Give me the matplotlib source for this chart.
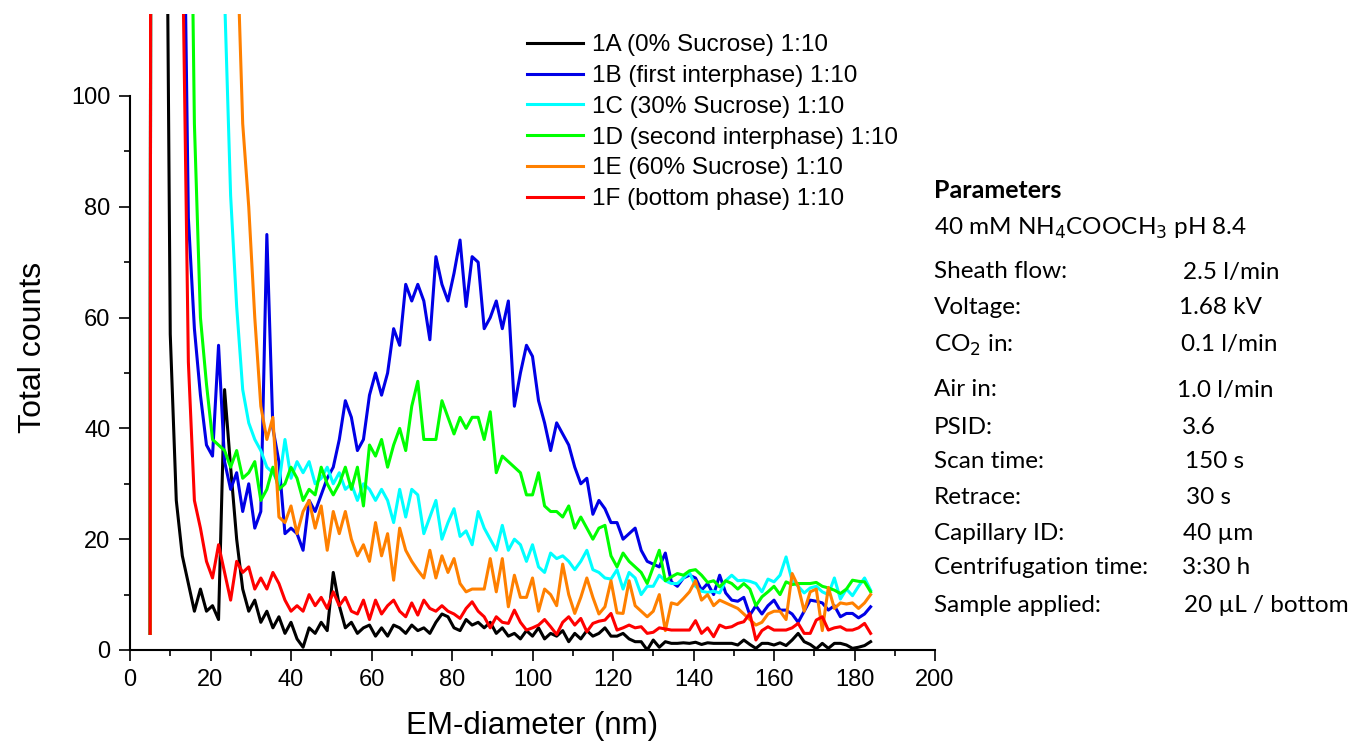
import numpy as np
import matplotlib.pyplot as plt

# -------------------------------
# EM-diameter grid (nm), shared by all samples
# -------------------------------
diameter = np.array([5.0] + list(np.arange(5.5, 184.1, 1.5)))

# -------------------------------
# Total counts
# -------------------------------
counts_1A = [3, 500, 500, 200, 57, 27, 17, 12, 7, 11,
             7, 8, 5.5, 47, 33, 20, 11, 7, 9, 5,
             7, 4, 6, 3, 5, 2, 0.5, 4, 3, 5,
             3.5, 14, 8, 4, 5, 3, 4, 4.5, 2.5, 4,
             2.5, 4.5, 4, 3, 4.5, 3.5, 4, 3, 5, 6.5,
             6, 4, 3.5, 5.5, 4.5, 5, 4, 5, 3, 4,
             2.5, 3, 2, 3.5, 2.5, 4, 2, 3, 2.5, 3.5,
             1.5, 3, 2, 3.5, 2.5, 3, 4, 2.5, 2.5, 3,
             2, 1.5, 1.5, 0, 1.8, 0.5, 1.5, 1.2, 1.2, 1.3,
             1.2, 1.4, 1, 1.3, 1.2, 1.2, 1.2, 1.2, 0.9, 1.8,
             1, 0.3, 1.2, 1.2, 0.9, 1.3, 0.8, 1.8, 3, 1.5,
             1, 0.2, 1.2, 0.3, 1.2, 1.2, 0.9, 0.3, 0.5, 0.8,
             1.5]

counts_1B = [3, 500, 500, 500, 500, 500, 160, 78, 58, 46,
             37, 35, 55, 34, 29, 32, 25, 30, 22, 25,
             75, 40, 34, 21, 22, 21, 18, 27, 25, 28,
             31, 33, 38, 45, 42, 36, 38, 46, 50, 46,
             50, 58, 55, 66, 63, 66, 63, 56, 71, 66,
             63, 68, 74, 62, 71, 70, 58, 60, 63, 58,
             63, 44, 50, 55, 53, 45, 41, 36, 41, 39,
             37, 33, 30, 31, 24.5, 27, 25.5, 23, 23, 20,
             21, 22, 18, 16, 15.5, 15, 17.5, 12.3, 11.5, 13,
             13.5, 13, 10.8, 12, 10, 13.5, 10.3, 9, 8.8, 9.5,
             6.3, 8, 6.5, 8, 9, 7.2, 7.2, 6.5, 5, 7,
             9, 8.8, 8.5, 7.2, 8, 6, 6.6, 6.6, 5.8, 6.5,
             7.8]

counts_1C = [3, 500, 500, 500, 500, 500, 500, 500, 500, 500,
             500, 500, 500, 118, 82, 62, 47, 41, 38, 36,
             33, 32, 30, 38, 31, 34, 32, 34, 30, 31,
             33, 30, 32, 29, 30, 27, 30, 29, 27, 29,
             27, 23, 29, 24, 29, 28, 21, 24, 27, 20,
             23, 25.5, 20.5, 21.5, 19, 25, 22, 20, 18, 22.5,
             18, 20, 19, 16, 19, 15, 14, 17.5, 16.5, 17,
             16, 14.5, 16, 18, 14.5, 14, 13, 12.8, 14.5, 11,
             14, 13, 10, 11.5, 11.5, 13.5, 12.5, 12, 12, 13,
             14, 11.5, 10.6, 10.4, 10.6, 10.3, 12.5, 13.5, 12.5, 12.6,
             12.4, 12, 10.5, 12.8, 12.3, 13.5, 16.8, 12.5, 11.5, 10.3,
             11.2, 11.5, 10.5, 10, 13, 9.2, 11, 9.8, 11.5, 13,
             10.8]

counts_1D = [3, 500, 500, 500, 500, 500, 400, 180, 95, 60,
             48, 38, 37, 36, 33, 36, 31, 32, 34, 27,
             29, 33, 29, 30, 33, 31, 27, 29, 28, 33,
             30, 28, 30, 33, 29, 33, 26, 37, 35, 38,
             33, 37, 40, 36, 44, 48.5, 38, 38, 38, 45,
             42, 39, 42, 40, 42, 42, 38, 43, 32, 35,
             34, 33, 32, 28, 28, 32, 26, 25, 25, 24,
             26, 22, 24, 22, 20, 22, 22.5, 17, 15, 17.5,
             16, 15, 14, 12, 15, 18, 12.5, 13.2, 13.8, 13.5,
             14.3, 14.5, 13.5, 12.2, 12.5, 11.4, 12.5, 12, 11, 12,
             11, 8, 9.6, 10.5, 11.5, 10, 12.3, 11.8, 12, 12,
             12, 12.2, 11.5, 11.2, 10.8, 10.2, 11, 12.6, 12.4, 12.3,
             10.5]

counts_1E = [3, 500, 500, 500, 500, 500, 500, 500, 500, 500,
             500, 500, 500, 500, 500, 130, 95, 80, 60, 44,
             38, 42, 24, 23, 26, 21, 25, 27, 22, 26,
             18, 25, 21, 25, 20, 17, 19, 16, 23, 17,
             21, 12.6, 22, 18, 16, 14.4, 13, 18, 13, 17,
             14, 16.5, 12, 10.5, 11, 11, 11, 16.5, 10.5, 16.5,
             7.8, 13.5, 9.5, 9.5, 13, 7, 11, 10, 8, 15.5,
             10, 6.6, 9.5, 13, 9.5, 6.5, 7.8, 12.5, 6.7, 6.6,
             12.5, 8, 7, 6, 7, 10, 3.5, 8.5, 8.2, 9.3,
             10.5, 12.5, 9, 10, 8, 9, 8.5, 8, 7.5, 6.5,
             5.5, 4.5, 5, 6.5, 7, 7, 5.5, 13.8, 11.5, 7,
             10.5, 11, 3.5, 11.3, 7.5, 8.5, 8.3, 8.5, 7.5, 8.5,
             10]

counts_1F = [3, 500, 500, 500, 500, 400, 130, 52, 27, 22,
             16, 13, 19, 14, 9, 16, 14, 15, 11, 13,
             11, 14, 12, 9, 7, 8, 7, 10, 8, 9.5,
             7.5, 10.5, 8, 9.5, 7, 6.5, 9, 5.5, 9, 6.5,
             8, 9, 7, 6, 8.5, 6.3, 9, 7.5, 7, 8,
             7, 6.5, 5.7, 7.5, 8.7, 7, 6, 4, 6, 5,
             4.8, 7.2, 5, 3.6, 4, 4.5, 5.5, 4.2, 2.8, 5,
             6, 4.5, 5.7, 3.3, 4.8, 5.2, 5.4, 6.6, 3.6, 4,
             4.5, 4, 4.2, 3, 3.2, 4, 3.8, 3.6, 3.6, 3.6,
             3.6, 5.3, 3, 4, 2.4, 4.5, 4, 4.2, 4.8, 5.1,
             6.6, 1.8, 3.5, 4.2, 3.6, 3.6, 3.6, 4, 4.8, 3,
             3, 5.4, 6, 3.6, 4, 4.2, 3.6, 3.6, 4, 4.8,
             3]

labels = ["1A (0% Sucrose) 1:10",
          "1B (first interphase) 1:10",
          "1C (30% Sucrose) 1:10",
          "1D (second interphase) 1:10",
          "1E (60% Sucrose) 1:10",
          "1F (bottom phase) 1:10"]
colors = ["#000000", "#0000e6", "#00ffff", "#00ff00", "#ff8000", "#ff0000"]

# measurement parameters shown at the right
param_names = ["Sheath flow:", "Voltage:", "CO$_2$ in:", "Air in:", "PSID:",
               "Scan time:", "Retrace:", "Capillary ID:",
               "Centrifugation time:", "Sample applied:"]
param_values = ["2.5 l/min", "1.68 kV", "0.1 l/min", "1.0 l/min", "3.6",
                "150 s", "30 s", "40 \u00b5m", "3:30 h", "20 \u00b5L / bottom"]

# -------------------------------
# Plot
# -------------------------------
plt.rcParams['font.family'] = ['Liberation Sans', 'DejaVu Sans']

fig = plt.figure(figsize=(13.65, 7.45), dpi=100)
ax = fig.add_axes([130 / 1365, 1 - 650 / 745, 805 / 1365, 636 / 745])

series = [counts_1A, counts_1B, counts_1C, counts_1D, counts_1E, counts_1F]
for counts, lab, col in zip(series, labels, colors):
    ax.plot(diameter, counts, color=col, linewidth=2.2, label=lab)

ax.set_xlim(0, 200)
ax.set_ylim(0, 114.8)
ax.spines['top'].set_visible(False)
ax.spines['right'].set_visible(False)
ax.spines['left'].set_bounds(0, 100)
ax.spines['bottom'].set_bounds(0, 200)
ax.spines['left'].set_linewidth(1.5)
ax.spines['bottom'].set_linewidth(1.5)

ax.set_xticks(np.arange(0, 201, 20))
ax.set_xticks(np.arange(10, 200, 20), minor=True)
ax.set_yticks(np.arange(0, 101, 20))
ax.set_yticks(np.arange(10, 100, 20), minor=True)
ax.tick_params(which='major', direction='out', length=8, width=1.2, labelsize=17, pad=6)
ax.tick_params(which='minor', direction='out', length=4.5, width=1.2)

ax.set_xlabel("EM-diameter (nm)", fontsize=22.5, labelpad=14)
ax.set_ylabel("Total counts", fontsize=23)
ax.yaxis.set_label_coords(-0.102, 0.476)

ax.legend(loc='upper left', bbox_to_anchor=(0.493, 0.968), frameon=False,
          fontsize=17.5, handlelength=2.3, handletextpad=0.37,
          labelspacing=0.36, borderpad=0, borderaxespad=0)

# parameter block
pfont = ['Lato', 'DejaVu Sans']
psize = 17.5
fig.text(934 / 1365, 1 - 190 / 745, "Parameters", fontsize=psize + 0.5, fontweight='bold',
         family=pfont, va='center')
fig.text(934 / 1365, 1 - 228 / 745, "40 mM NH$_4$COOCH$_3$ pH 8.4", fontsize=psize,
         family=pfont, va='center')
row_y = [272, 308, 345, 390, 427, 462, 498, 533, 568, 605]
value_x = [1183, 1179, 1181, 1177, 1182, 1185, 1186, 1183, 1182, 1184]
for name, val, yy, xx in zip(param_names, param_values, row_y, value_x):
    fig.text(934 / 1365, 1 - yy / 745, name, fontsize=psize, family=pfont, va='center')
    fig.text(xx / 1365, 1 - yy / 745, val, fontsize=psize, family=pfont, va='center')

fig.savefig("out.png", dpi=100)
